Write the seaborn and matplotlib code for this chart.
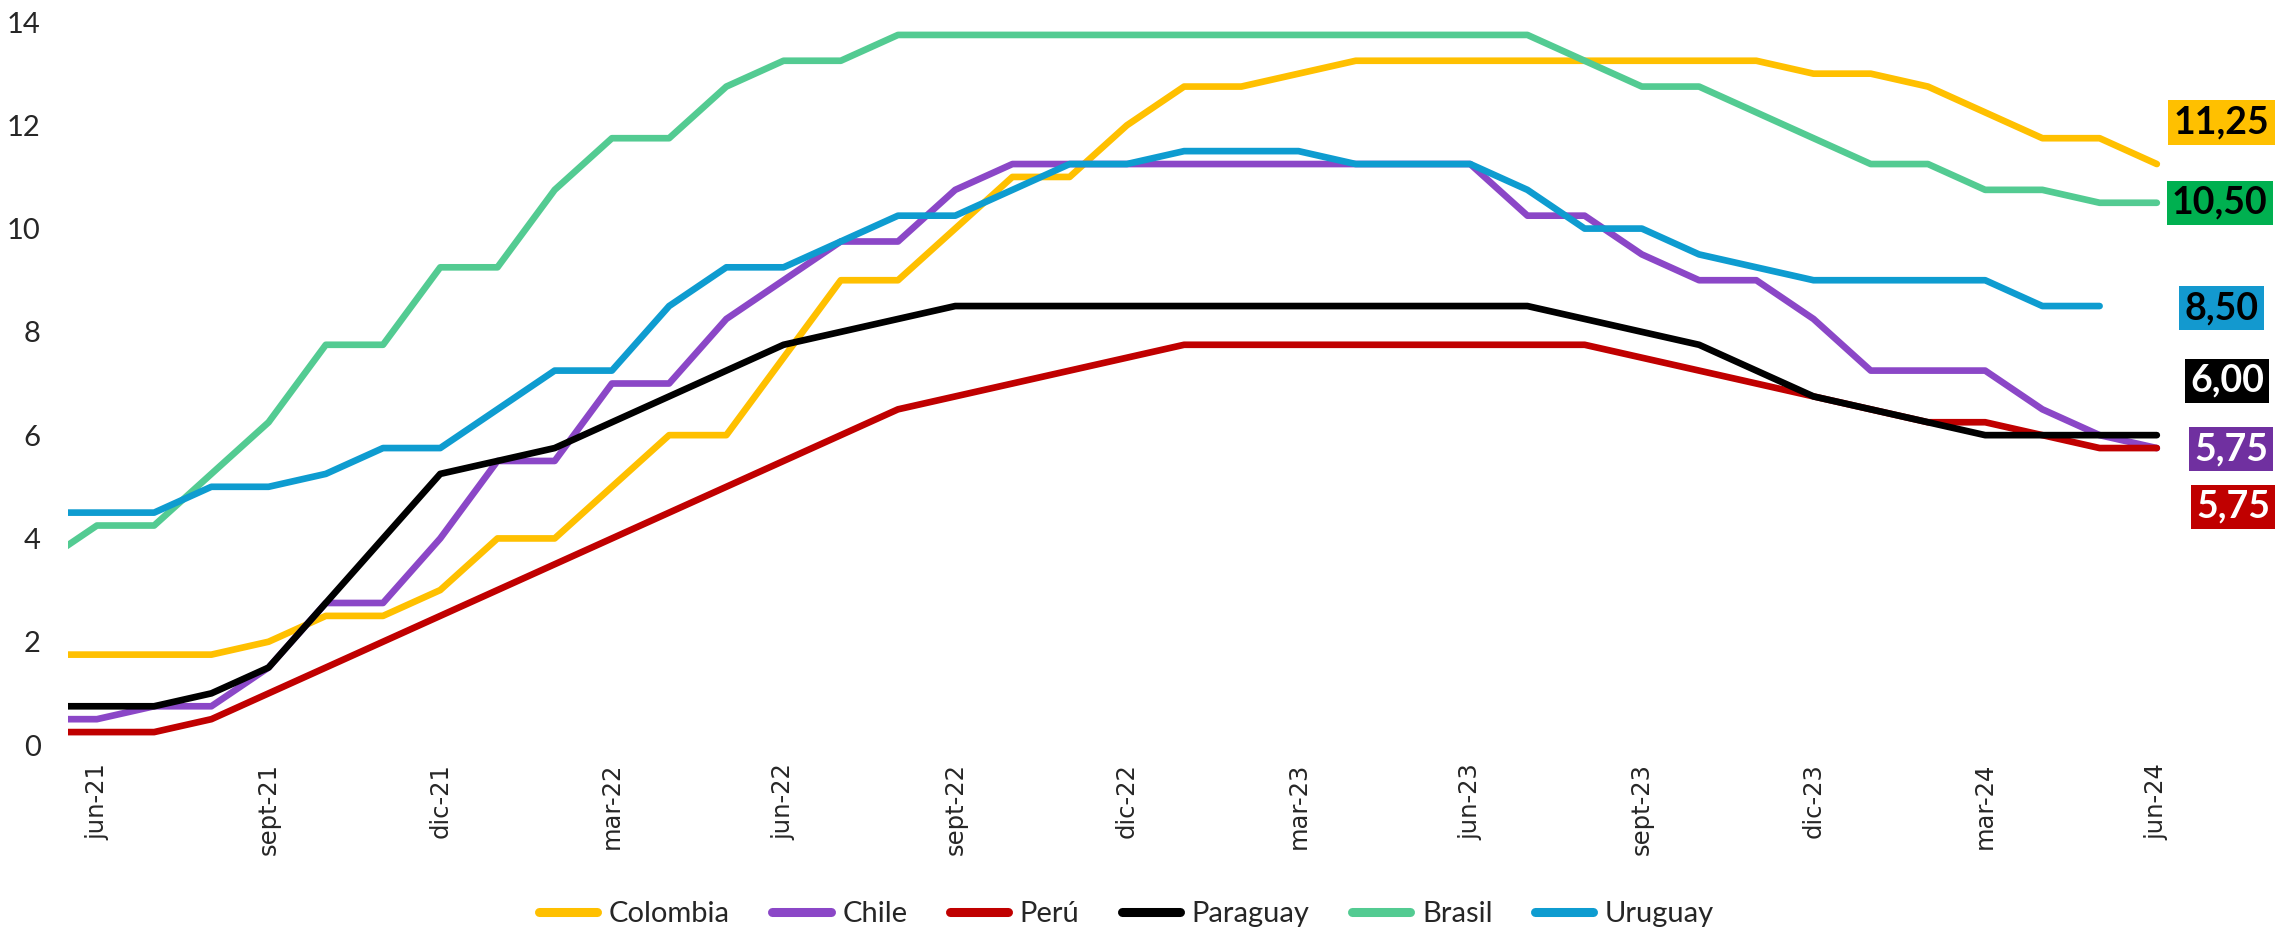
import numpy as np
import pandas as pd
import matplotlib
matplotlib.use('Agg')
import matplotlib.pyplot as plt
import seaborn as sns

# Policy rates, monthly from may-21 (index -1) to jun-24 (index 36)
months = list(range(-1, 37))
tick_pos = list(range(0, 37, 3))
tick_labels = ['jun-21', 'sept-21', 'dic-21', 'mar-22', 'jun-22', 'sept-22', 'dic-22',
               'mar-23', 'jun-23', 'sept-23', 'dic-23', 'mar-24', 'jun-24']

colombia = [1.75, 1.75, 1.75, 1.75, 2.00, 2.50, 2.50, 3.00,
            4.00, 4.00, 5.00, 6.00, 6.00, 7.50, 9.00, 9.00, 10.00, 11.00, 11.00, 12.00,
            12.75, 12.75, 13.00, 13.25, 13.25, 13.25, 13.25, 13.25, 13.25, 13.25, 13.25, 13.00,
            13.00, 12.75, 12.25, 11.75, 11.75, 11.25]
chile = [0.50, 0.50, 0.75, 0.75, 1.50, 2.75, 2.75, 4.00,
         5.50, 5.50, 7.00, 7.00, 8.25, 9.00, 9.75, 9.75, 10.75, 11.25, 11.25, 11.25,
         11.25, 11.25, 11.25, 11.25, 11.25, 11.25, 10.25, 10.25, 9.50, 9.00, 9.00, 8.25,
         7.25, 7.25, 7.25, 6.50, 6.00, 5.75]
peru = [0.25, 0.25, 0.25, 0.50, 1.00, 1.50, 2.00, 2.50,
        3.00, 3.50, 4.00, 4.50, 5.00, 5.50, 6.00, 6.50, 6.75, 7.00, 7.25, 7.50,
        7.75, 7.75, 7.75, 7.75, 7.75, 7.75, 7.75, 7.75, 7.50, 7.25, 7.00, 6.75,
        6.50, 6.25, 6.25, 6.00, 5.75, 5.75]
paraguay = [0.75, 0.75, 0.75, 1.00, 1.50, 2.75, 4.00, 5.25,
            5.50, 5.75, 6.25, 6.75, 7.25, 7.75, 8.00, 8.25, 8.50, 8.50, 8.50, 8.50,
            8.50, 8.50, 8.50, 8.50, 8.50, 8.50, 8.50, 8.25, 8.00, 7.75, 7.25, 6.75,
            6.50, 6.25, 6.00, 6.00, 6.00, 6.00]
brasil = [3.50, 4.25, 4.25, 5.25, 6.25, 7.75, 7.75, 9.25,
          9.25, 10.75, 11.75, 11.75, 12.75, 13.25, 13.25, 13.75, 13.75, 13.75, 13.75, 13.75,
          13.75, 13.75, 13.75, 13.75, 13.75, 13.75, 13.75, 13.25, 12.75, 12.75, 12.25, 11.75,
          11.25, 11.25, 10.75, 10.75, 10.50, 10.50]
uruguay = [4.50, 4.50, 4.50, 5.00, 5.00, 5.25, 5.75, 5.75,
           6.50, 7.25, 7.25, 8.50, 9.25, 9.25, 9.75, 10.25, 10.25, 10.75, 11.25, 11.25,
           11.50, 11.50, 11.50, 11.25, 11.25, 11.25, 10.75, 10.00, 10.00, 9.50, 9.25, 9.00,
           9.00, 9.00, 9.00, 8.50, 8.50, np.nan]

series = {'Colombia': colombia, 'Chile': chile, 'Perú': peru,
          'Paraguay': paraguay, 'Brasil': brasil, 'Uruguay': uruguay}

line_colors = {'Colombia': '#FFC000', 'Chile': '#8B47C7', 'Perú': '#C00000',
               'Paraguay': '#000000', 'Brasil': '#53CB92', 'Uruguay': '#0E9CD0'}

# end-of-series label boxes: (x, y) placement, box colour, text colour
end_labels = {
    'Colombia': (37.13, 12.05, '#FFC000', 'black'),
    'Brasil':   (37.10, 10.50, '#00B050', 'black'),
    'Uruguay':  (37.13, 8.46, '#1399CF', 'black'),
    'Paraguay': (37.23, 7.05, '#000000', 'white'),
    'Chile':    (37.30, 5.73, '#7030A0', 'white'),
    'Perú':     (37.33, 4.61, '#C00000', 'white'),
}

df = pd.concat([pd.DataFrame({'mes': months, 'tasa': v, 'pais': k}) for k, v in series.items()],
               ignore_index=True)

sns.set_style('white')
plt.rcParams['font.family'] = ['Lato', 'DejaVu Sans']

fig = plt.figure(figsize=(22.85, 9.33), dpi=100)
ax = fig.add_axes([0.0299, 0.2015, 0.9701, 0.7749])

sns.lineplot(data=df, x='mes', y='tasa', hue='pais', hue_order=list(series),
             palette=line_colors, linewidth=4.8, estimator=None, sort=False, ax=ax)
for ln in ax.lines:
    ln.set_solid_capstyle('round')

ax.set_xlim(-0.5, 38.24)
ax.set_ylim(0, 14)
ax.set_yticks(range(0, 15, 2))
ax.tick_params(axis='y', length=0, pad=20, labelsize=21)
ax.set_xticks(tick_pos)
ax.set_xticklabels(tick_labels, rotation=90, fontsize=17.5, family='DejaVu Sans')
ax.tick_params(axis='x', length=0, pad=13)
ax.set_xlabel('')
ax.set_ylabel('')
sns.despine(ax=ax, left=True, bottom=True)

# value boxes at the end of each series
for name, (lx, ly, bc, tc) in end_labels.items():
    vals = [v for v in series[name] if not np.isnan(v)]
    txt = f"{vals[-1]:.2f}".replace('.', ',')
    ax.text(lx, ly, txt, ha='center', va='center', fontsize=27, fontweight='bold',
            color=tc, family='Lato', clip_on=False,
            bbox=dict(boxstyle='square,pad=0.14', fc=bc, ec='none'))

sns.move_legend(ax, 'center', bbox_to_anchor=(0.493, 0.02), bbox_transform=fig.transFigure,
                ncol=6, frameon=False, title=None, prop={'family': 'Lato', 'size': 21},
                handlelength=2.0, handletextpad=0.4, columnspacing=1.45)
for h in ax.get_legend().legend_handles:
    h.set_linewidth(6.5)
    h.set_solid_capstyle('round')

fig.savefig('out.png', dpi=100)
